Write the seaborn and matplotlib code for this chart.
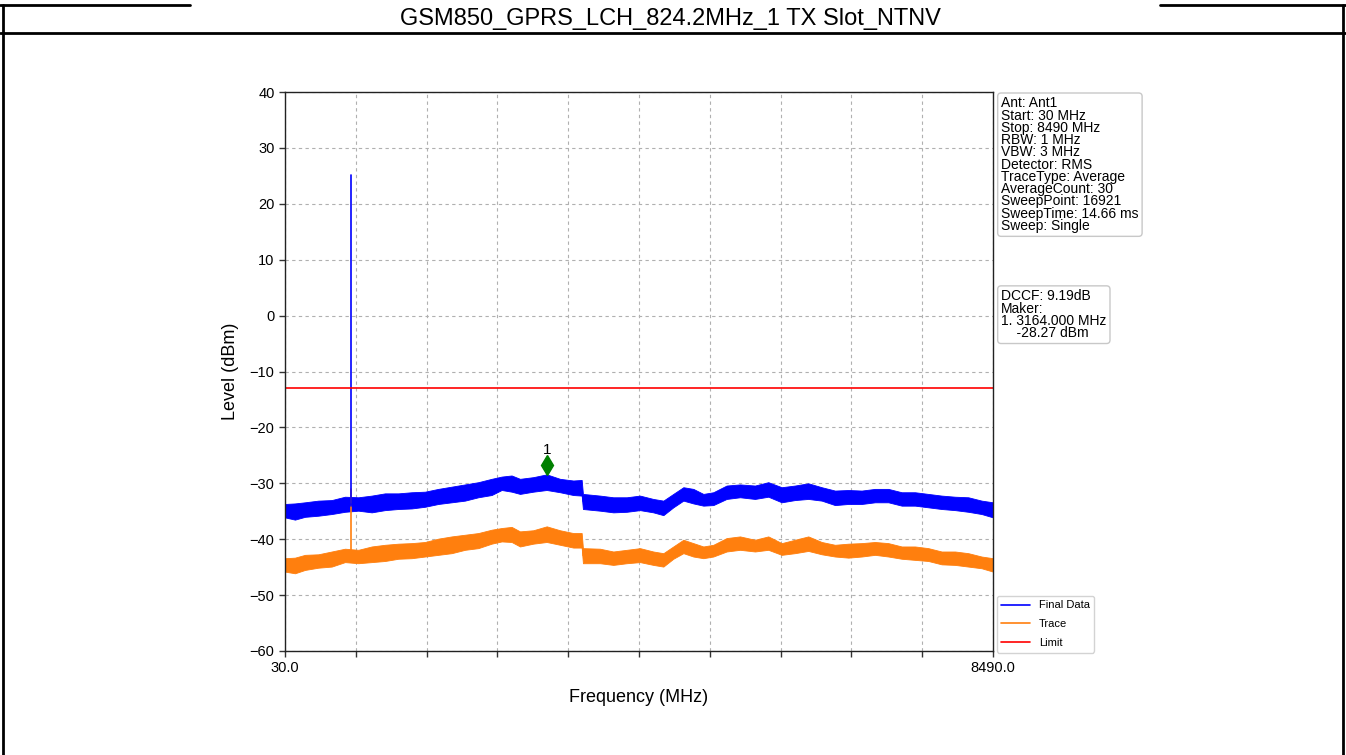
import numpy as np
import pandas as pd
import matplotlib
matplotlib.use("Agg")
import matplotlib.pyplot as plt
import matplotlib.transforms as mtransforms
from matplotlib.lines import Line2D
import seaborn as sns

# --- data ---
TITLE = "GSM850_GPRS_LCH_824.2MHz_1 TX Slot_NTNV"

# envelope breakpoints (MHz) of the noise band
freq_mhz = [30, 149, 269, 428, 588, 747, 906, 1066, 1225, 1384, 1544, 1703, 1862,
            2022, 2181, 2340, 2499, 2619, 2738, 2838, 2997, 3157, 3316, 3475, 3575,
            3590, 3794, 3953, 4113, 4272, 4431, 4551, 4670, 4790, 4909, 5029, 5148,
            5307, 5467, 5646, 5805, 5965, 6124, 6283, 6443, 6602, 6761, 6921, 7080,
            7239, 7399, 7558, 7717, 7876, 8036, 8195, 8354, 8490]

final_top = [-33.7, -33.6, -33.4, -33.1, -33.0, -32.4, -32.5, -32.2, -31.8, -31.8,
             -31.6, -31.5, -31.0, -30.6, -30.2, -29.8, -29.2, -28.8, -28.6, -29.2,
             -28.9, -28.4, -29.2, -29.5, -29.4, -31.9, -32.2, -32.5, -32.5, -32.2,
             -32.8, -33.1, -31.9, -30.7, -31.0, -31.9, -31.6, -30.4, -30.2, -30.4,
             -29.8, -30.7, -30.4, -30.0, -30.7, -31.3, -31.2, -31.3, -31.0, -31.0,
             -31.6, -31.6, -31.9, -32.2, -32.4, -32.5, -33.1, -33.4]
final_bot = [-36.1, -36.5, -36.0, -35.8, -35.5, -35.1, -34.9, -35.2, -34.8, -34.6,
             -34.5, -34.2, -33.7, -33.4, -33.1, -32.5, -32.1, -31.2, -31.5, -31.9,
             -31.5, -31.2, -31.6, -32.1, -32.2, -34.6, -34.9, -35.2, -35.1, -34.8,
             -35.2, -35.7, -34.3, -33.1, -33.6, -34.0, -33.9, -32.8, -32.5, -32.8,
             -32.4, -33.4, -33.0, -32.8, -33.1, -33.9, -33.7, -33.7, -33.4, -33.4,
             -34.0, -34.0, -34.3, -34.6, -34.8, -35.1, -35.5, -36.1]

trace_top = [-43.4, -43.3, -42.8, -42.7, -42.2, -41.7, -41.9, -41.3, -41.0, -40.8,
             -40.7, -40.5, -39.9, -39.5, -39.2, -38.9, -38.3, -38.0, -37.8, -38.6,
             -38.4, -37.7, -38.4, -38.9, -38.9, -41.6, -41.7, -42.2, -41.9, -41.6,
             -42.2, -42.5, -41.3, -40.1, -40.7, -41.3, -41.0, -39.8, -39.5, -40.1,
             -39.5, -40.7, -40.1, -39.5, -40.5, -41.0, -40.8, -40.7, -40.5, -40.7,
             -41.3, -41.3, -41.6, -42.2, -42.2, -42.5, -43.1, -43.4]
trace_bot = [-45.8, -46.1, -45.5, -45.1, -44.9, -44.1, -44.3, -44.1, -43.9, -43.5,
             -43.4, -43.1, -42.8, -42.5, -41.9, -41.6, -40.8, -40.4, -40.5, -41.3,
             -40.8, -40.5, -41.0, -41.5, -41.5, -44.3, -44.3, -44.6, -44.3, -44.1,
             -44.6, -44.9, -43.5, -42.5, -43.1, -43.4, -43.1, -42.2, -41.9, -42.2,
             -41.9, -42.8, -42.5, -42.1, -42.7, -43.1, -43.3, -43.1, -42.8, -43.1,
             -43.5, -43.7, -43.9, -44.5, -44.6, -44.9, -45.2, -45.8]

# carrier spike
spike_freq = 824.2
final_spike = [-34.0, 25.1]
trace_spike = [-43.0, -31.0]

limit_freq = [30, 8490]
limit_level = [-13, -13]

marker_freq = 3164.0
marker_level = -28.27

info_text = ("Ant: Ant1\nStart: 30 MHz\nStop: 8490 MHz\nRBW: 1 MHz\nVBW: 3 MHz\n"
             "Detector: RMS\nTraceType: Average\nAverageCount: 30\nSweepPoint: 16921\n"
             "SweepTime: 14.66 ms\nSweep: Single")
marker_text = "DCCF: 9.19dB\nMaker:\n1. 3164.000 MHz\n    -28.27 dBm"

x_ticks = [30 + i * 846 for i in range(11)]
x_ticklabels = ["30.0"] + [""] * 9 + ["8490.0"]
y_ticks = list(range(-60, 41, 10))


def band_frame(top, bot):
    return pd.DataFrame({"freq": freq_mhz * 2, "level": top + bot})


sns.set_style("white")
plt.rcParams["font.family"] = ["Liberation Sans", "DejaVu Sans"]
plt.rcParams["text.color"] = "black"
plt.rcParams["axes.labelcolor"] = "black"
plt.rcParams["xtick.color"] = "black"
plt.rcParams["ytick.color"] = "black"

fig = plt.figure(figsize=(13.46, 7.55), dpi=100)
ax = fig.add_axes([285 / 1346, 1 - 651 / 755, 708 / 1346, 559 / 755])

BLUE = "#0000ff"
ORANGE = "#ff7f0e"

# trace (orange) first, final data on top
sns.lineplot(data=band_frame(trace_top, trace_bot), x="freq", y="level",
             estimator="mean", errorbar=("pi", 100), color=ORANGE, lw=0.6,
             err_kws=dict(alpha=1, linewidth=0.6, edgecolor=ORANGE), ax=ax)
ax.plot([spike_freq, spike_freq], trace_spike, color=ORANGE, lw=1.2)

sns.lineplot(data=band_frame(final_top, final_bot), x="freq", y="level",
             estimator="mean", errorbar=("pi", 100), color=BLUE, lw=0.6,
             err_kws=dict(alpha=1, linewidth=0.6, edgecolor=BLUE), ax=ax)
ax.plot([spike_freq, spike_freq], final_spike, color=BLUE, lw=1.2)

sns.lineplot(x=limit_freq, y=limit_level, color="red", lw=1.2, ax=ax)

# marker drawn slightly above the reading, like the instrument plot
shift = mtransforms.offset_copy(ax.transData, fig=fig, x=0, y=6.5, units="points")
ax.plot([marker_freq], [marker_level], marker="d", ms=10, color="green",
        transform=shift, linestyle="none")
ax.annotate("1", (marker_freq, marker_level), xytext=(0, 12), textcoords="offset points",
            ha="center", va="bottom", fontsize=11)

ax.set_xlim(30, 8490)
ax.set_ylim(-60, 40)
ax.set_xticks(x_ticks)
ax.set_xticklabels(x_ticklabels)
ax.set_yticks(y_ticks)
ax.tick_params(axis="both", direction="out", length=4, width=1, labelsize=10.5,
               color="#333333", bottom=True, left=True)
ax.grid(True, linestyle=(0, (3, 3)), color="#b0b0b0", linewidth=0.8)
for s in ax.spines.values():
    s.set_color("#222222")
    s.set_linewidth(1.0)
ax.set_xlabel("Frequency (MHz)", fontsize=13, labelpad=10)
ax.set_ylabel("Level (dBm)", fontsize=13, labelpad=8)

box = dict(boxstyle="round,pad=0.25", fc="white", ec="#c8c8c8", lw=1)
ax.text(1.0115, 0.992, info_text, transform=ax.transAxes, ha="left", va="top",
        fontsize=10, linespacing=0.84, bbox=box)
ax.text(1.0115, 0.647, marker_text, transform=ax.transAxes, ha="left", va="top",
        fontsize=10, linespacing=0.84, bbox=box)

handles = [Line2D([], [], color=BLUE, lw=1.2),
           Line2D([], [], color=ORANGE, lw=1.2),
           Line2D([], [], color="red", lw=1.2)]
ax.legend(handles, ["Final Data", "Trace", "Limit"], loc="lower left",
          bbox_to_anchor=(1.005, -0.003), fontsize=8, handlelength=2.6,
          labelspacing=0.8, frameon=True, edgecolor="#c8c8c8", fancybox=True,
          borderaxespad=0)

# page frame around the chart
lk = dict(color="black", lw=2, transform=fig.transFigure)
fig.add_artist(Line2D([0, 1], [1 - 33 / 755] * 2, **lk))
fig.add_artist(Line2D([0, 190 / 1346], [1 - 5 / 755] * 2, **lk))
fig.add_artist(Line2D([1160 / 1346, 1], [1 - 5 / 755] * 2, **lk))
fig.add_artist(Line2D([3 / 1346] * 2, [0, 1 - 5 / 755], **lk))
fig.add_artist(Line2D([1343 / 1346] * 2, [0, 1 - 5 / 755], **lk))
fig.text(0.498, 1 - 19 / 755, TITLE, ha="center", va="center", fontsize=17)

fig.savefig("out.png", dpi=100)
